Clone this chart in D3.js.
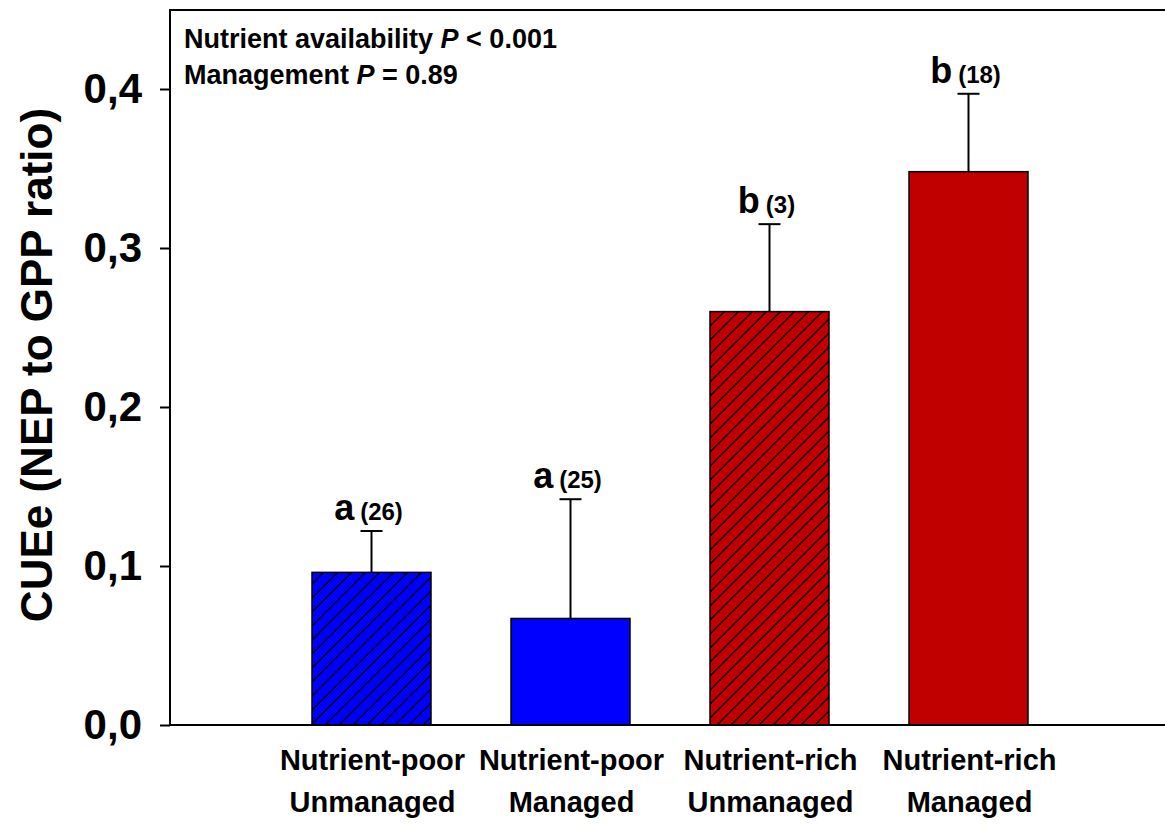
<!DOCTYPE html>
<html><head><meta charset="utf-8">
<script src="https://cdn.jsdelivr.net/npm/d3@7"></script>
<style>body{margin:0;background:#fff}text{font-family:Arial,"Liberation Sans",sans-serif;font-weight:bold}</style>
</head><body>
<script>
const line1 = ['Nutrient-poor', 'Nutrient-poor', 'Nutrient-rich', 'Nutrient-rich'];
const line2 = ['Unmanaged', 'Managed', 'Unmanaged', 'Managed'];
const values = [0.096, 0.067, 0.260, 0.348];
const errors = [0.026, 0.075, 0.055, 0.049];
const letters = ['a', 'a', 'b', 'b'];
const counts = ['(26)', '(25)', '(3)', '(18)'];
const hatched = [true, false, true, false];
const colors = ['#0000ff', '#0000ff', '#c00000', '#c00000'];
const yTicks = [0, 0.1, 0.2, 0.3, 0.4];

const W = 1165, H = 825, mLeft = 170, mRight = 1165, mTop = 10, mBottom = 725;
const svg = d3.select('body').append('svg').attr('width', W).attr('height', H);

const y = d3.scaleLinear().domain([0, 0.45]).range([mBottom, mTop - 0.5]);
const x = d3.scaleLinear().domain([0, 5]).range([mLeft + 2.5, mRight + 2.5]);
const bw = 119;

const defs = svg.append('defs');
colors.forEach((c, i) => {
  const p = defs.append('pattern').attr('id', 'h' + i).attr('patternUnits', 'userSpaceOnUse')
    .attr('width', 14).attr('height', 14);
  p.append('rect').attr('width', 14).attr('height', 14).attr('fill', c);
  p.append('path').attr('d', 'M-3,3 L3,-3 M0,14 L14,0 M11,17 L17,11').attr('stroke', '#000').attr('stroke-width', 1.3);
});

const g = svg.append('g');
values.forEach((v, i) => {
  const cx = x(i + 1);
  g.append('line').attr('x1', cx).attr('x2', cx).attr('y1', y(v)).attr('y2', y(v + errors[i])).attr('stroke', '#000').attr('stroke-width', 2);
  g.append('line').attr('x1', cx - 11).attr('x2', cx + 11).attr('y1', y(v + errors[i])).attr('y2', y(v + errors[i])).attr('stroke', '#000').attr('stroke-width', 2);
  g.append('rect').attr('x', cx - bw / 2).attr('width', bw).attr('y', y(v)).attr('height', y(0) - y(v))
    .attr('fill', hatched[i] ? `url(#h${i})` : colors[i]).attr('stroke', '#000').attr('stroke-width', 1.5);
  const t = g.append('text').attr('x', cx - 3).attr('y', y(v + errors[i]) - 11).attr('text-anchor', 'middle');
  t.append('tspan').attr('font-size', 36).text(letters[i]);
  t.append('tspan').attr('font-size', 24).attr('dx', 6).text(counts[i]);
  g.append('text').attr('x', cx + 1).attr('y', 770).attr('text-anchor', 'middle').attr('font-size', 29).text(line1[i]);
  g.append('text').attr('x', cx + 1).attr('y', 812).attr('text-anchor', 'middle').attr('font-size', 29).text(line2[i]);
});

// frame
svg.append('rect').attr('x', mLeft).attr('y', mTop).attr('width', mRight - mLeft + 5).attr('height', mBottom - mTop)
  .attr('fill', 'none').attr('stroke', '#000').attr('stroke-width', 2);

const yAxis = d3.axisLeft(y).tickValues(yTicks).tickSize(10).tickFormat(d => d3.format('.1f')(d).replace('.', ','));
const ya = svg.append('g').attr('transform', `translate(${mLeft},0)`).call(yAxis);
ya.select('.domain').remove();
ya.selectAll('line').attr('stroke-width', 2);
ya.selectAll('text').attr('font-size', 42).attr('font-family', 'Arial,"Liberation Sans",sans-serif').attr('x', -28);

svg.append('text').attr('transform', 'translate(52,365) rotate(-90)').attr('text-anchor', 'middle')
  .attr('font-size', 44).text('CUEe (NEP to GPP ratio)');

const ann = svg.append('g').attr('font-size', 27);
const a1 = ann.append('text').attr('x', 184).attr('y', 48);
a1.append('tspan').text('Nutrient availability ');
a1.append('tspan').attr('font-style', 'italic').text('P');
a1.append('tspan').text(' < 0.001');
const a2 = ann.append('text').attr('x', 184).attr('y', 84);
a2.append('tspan').text('Management ');
a2.append('tspan').attr('font-style', 'italic').text('P');
a2.append('tspan').text(' = 0.89');
</script>
</body></html>
